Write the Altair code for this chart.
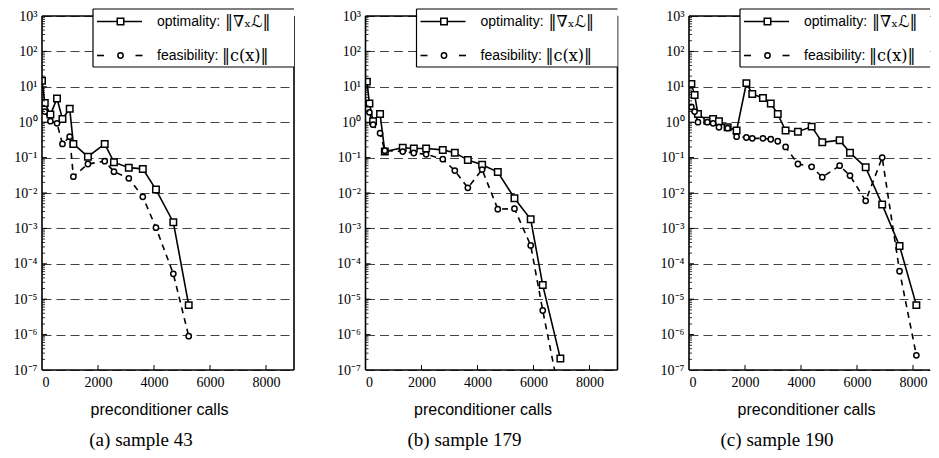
import altair as alt
import pandas as pd

# ---------------- data ----------------
# (a) sample 43
a_x = [0, 100, 300, 536, 730, 990, 1120, 1640, 2240, 2570, 3100, 3600, 4070, 4690, 5240]
a_opt = [14.8, 3.5, 1.64, 4.65, 1.24, 2.4, 0.243, 0.106, 0.243, 0.074, 0.052, 0.048, 0.0125, 0.0015, 6.8e-6]
a_feas_x = [100, 300, 536, 730, 990, 1120, 1640, 2240, 2570, 3100, 3600, 4070, 4690, 5240]
a_feas = [2.0, 1.07, 0.93, 0.243, 0.39, 0.029, 0.066, 0.079, 0.04, 0.026, 0.0078, 0.00105, 5.2e-5, 9e-7]

# (b) sample 179
b_x = [50, 140, 270, 520, 690, 1330, 1725, 2165, 2760, 3190, 3655, 4165, 4725, 5320, 5900, 6330, 6960]
b_opt = [14, 3.4, 1.07, 1.7, 0.148, 0.19, 0.18, 0.18, 0.165, 0.138, 0.085, 0.063, 0.039, 0.0071, 0.0018, 2.5e-5, 2.1e-7]
b_feas_x = [140, 270, 520, 690, 1330, 1725, 2165, 2760, 3190, 3655, 4165, 4725, 5320, 5900, 6330, 6960]
b_feas = [1.9, 0.85, 0.49, 0.157, 0.148, 0.135, 0.124, 0.09, 0.043, 0.014, 0.046, 0.0035, 0.0036, 0.00033, 4.8e-6, 1.5e-8]

# (c) sample 190
c_x = [85, 200, 320, 655, 860, 1070, 1380, 1700, 2050, 2260, 2640, 2920, 3170, 3450, 3890, 4380, 4760,
       5380, 5750, 6310, 6900, 7520, 8120]
c_opt = [12, 5.9, 1.7, 1.1, 1.24, 1.07, 0.72, 0.58, 12.7, 6.3, 4.8, 3.4, 1.7, 0.58, 0.54, 0.75, 0.27,
         0.31, 0.138, 0.053, 0.0047, 3.2e-4, 6.8e-6]
c_feas_x = c_x
c_feas = [2.7, 2.0, 1.0, 1.0, 0.93, 0.72, 0.68, 0.39, 0.37, 0.35, 0.35, 0.33, 0.29, 0.2, 0.066, 0.055, 0.028,
          0.059, 0.031, 0.006, 0.1, 6.2e-5, 2.6e-7]

captions = ["(a) sample 43", "(b) sample 179", "(c) sample 190"]
x_title = "preconditioner calls"
legend_opt_label = "optimality:"
legend_opt_math = "\u2016\u2207\u2093\u2112\u2016"
legend_feas_label = "feasibility:"
legend_feas_math = "\u2016c(x)\u2016"

x_ticks = [0, 2000, 4000, 6000, 8000]
y_decades = [10.0 ** e for e in range(-7, 4)]
y_minor = [k * 10.0 ** e for e in range(-7, 3) for k in range(2, 10)]

# ---------------- styling ----------------
W, H = 252, 354          # full panel plot size
X_MAX = 9000             # x-range shown by a full-width panel
W_C = 241                # last panel is cut by the page edge, as in the reference
SERIF = "Liberation Serif"
MATH = "DejaVu Serif, DejaVu Sans"
SANS = "Liberation Sans"
SPINE = 1.6
BOX_TOP = -7

label_expr = ("'10' + (round(log(datum.value)/LN10) < 0 ? '\u207b' : '') + "
              "['\u2070','\u00b9','\u00b2','\u00b3','\u2074','\u2075','\u2076','\u2077','\u2078','\u2079']"
              "[abs(round(log(datum.value)/LN10))]")

yscale = alt.Scale(type="log", domain=[1e-7, 1e3], nice=False)
yax = alt.Axis(values=y_decades, labelExpr=label_expr, title=None, grid=True,
               labelFont=SERIF, labelFontSize=14, labelPadding=5,
               gridDash=[9, 5], gridColor="#444444", gridWidth=1.2)


def panel(xs, opt, fx, feas, caption, w, right_spine=True):
    xscale = alt.Scale(domain=[0, X_MAX * w / W], nice=False, zero=False)
    xax = alt.Axis(values=x_ticks, title=x_title, grid=False, labelFont=SERIF, labelFontSize=14,
                   labelPadding=5, titleFont=SANS, titleFontSize=16, titleFontWeight="normal",
                   titleX=117, titleY=39, titleBaseline="middle", titleAlign="center", format="d")

    def X(field="calls"):
        return alt.X(f"{field}:Q", scale=xscale, axis=xax, title=x_title)

    def Y(field="value"):
        return alt.Y(f"{field}:Q", scale=yscale, axis=yax, title=None)

    d_opt = pd.DataFrame({"calls": xs, "value": opt})
    d_feas = pd.DataFrame({"calls": fx, "value": feas})

    base_opt = alt.Chart(d_opt).encode(x=X(), y=Y())
    base_feas = alt.Chart(d_feas).encode(x=X(), y=Y())
    opt_line = base_opt.mark_line(color="black", strokeWidth=1.6, clip=True)
    opt_pts = base_opt.mark_point(shape="square", size=42, filled=True, fill="white", stroke="black",
                                  strokeWidth=1.5, opacity=1, clip=True)
    feas_line = base_feas.mark_line(color="black", strokeWidth=1.6, strokeDash=[6, 5], clip=True)
    feas_pts = base_feas.mark_point(shape="circle", size=28, filled=True, fill="white", stroke="black",
                                    strokeWidth=1.5, opacity=1, clip=True)

    ymaj = alt.Chart(pd.DataFrame({"value": y_decades[1:-1]})).mark_rule(color="black", strokeWidth=1).encode(
        y=Y(), x=alt.value(0), x2=alt.value(5))
    ymin = alt.Chart(pd.DataFrame({"value": y_minor})).mark_rule(color="black", strokeWidth=0.8).encode(
        y=Y(), x=alt.value(0), x2=alt.value(3))
    xmaj = alt.Chart(pd.DataFrame({"calls": x_ticks[1:]})).mark_rule(color="black", strokeWidth=1).encode(
        x=X(), y=alt.value(H), y2=alt.value(H - 5))

    one = pd.DataFrame({"k": [0]})

    def rule(x1, x2, y1, y2, sw=SPINE):
        return alt.Chart(one).mark_rule(color="black", strokeWidth=sw).encode(
            x=alt.value(x1), x2=alt.value(x2), y=alt.value(y1), y2=alt.value(y2))

    spines = [rule(0, 0, 0, H), rule(0, w, 0, 0), rule(0, w, H, H)]
    if right_spine:
        spines.append(rule(w, w, 0, H))

    bx2 = min(254, w)
    box = [alt.Chart(one).mark_rect(fill="white", stroke=None).encode(
        x=alt.value(51), x2=alt.value(bx2), y=alt.value(BOX_TOP), y2=alt.value(51)),
        rule(51, 51, BOX_TOP, 51, 1.2), rule(51, bx2, BOX_TOP, BOX_TOP, 1.2), rule(51, bx2, 51, 51, 1.2)]
    if bx2 == 254:
        box.append(rule(254, 254, BOX_TOP, 51, 1.2))

    r1, r2 = 5.5, 39.5
    lg = [rule(55, 100, r1, r1, 1.6), rule(55, 62, r2, r2, 1.6), rule(93.5, 100.5, r2, r2, 1.6)]
    lg_sq = alt.Chart(one).mark_point(shape="square", size=42, filled=True, fill="white", stroke="black",
                                      strokeWidth=1.5, opacity=1).encode(x=alt.value(78.5), y=alt.value(r1))
    lg_ci = alt.Chart(one).mark_point(shape="circle", size=28, filled=True, fill="white", stroke="black",
                                      strokeWidth=1.5, opacity=1).encode(x=alt.value(78.5), y=alt.value(r2))

    def txt(s, x, y, font, size):
        return alt.Chart(one).mark_text(font=font, fontSize=size, align="left", baseline="middle",
                                        color="black", limit=max(w - x, 1), ellipsis="").encode(
            x=alt.value(x), y=alt.value(y), text=alt.value(s))

    texts = [txt(legend_opt_label, 115, r1, SANS, 14), txt(legend_opt_math, 183, r1, MATH, 16),
             txt(legend_feas_label, 115, r2, SANS, 14), txt(legend_feas_math, 180, r2, MATH, 16)]

    return alt.layer(
        opt_line, feas_line, opt_pts, feas_pts, ymaj, ymin, xmaj, *spines,
        *box, *lg, lg_sq, lg_ci, *texts,
    ).properties(
        width=w, height=H,
        view=alt.ViewBackground(stroke=None),
        title=alt.TitleParams(caption, orient="bottom", font=SERIF, fontSize=19, fontWeight="normal",
                              color="black", offset=14, frame="group", anchor="middle", dx=-27 - (W - w) / 2),
    )


pa = panel(a_x, a_opt, a_feas_x, a_feas, captions[0], W)
pb = panel(b_x, b_opt, b_feas_x, b_feas, captions[1], W)
pc = panel(c_x, c_opt, c_feas_x, c_feas, captions[2], W_C, right_spine=False)

chart = alt.hconcat(pa, pb, pc, spacing=71.5, bounds="flush").properties(
    padding={"left": 5, "top": 0, "right": 0, "bottom": 0},
    background="white",
).configure_view(stroke=None).configure_axis(
    domain=False, ticks=False, labelColor="black", titleColor="black"
)

chart.save("out.html", embed_options={"renderer": "svg", "actions": False})
